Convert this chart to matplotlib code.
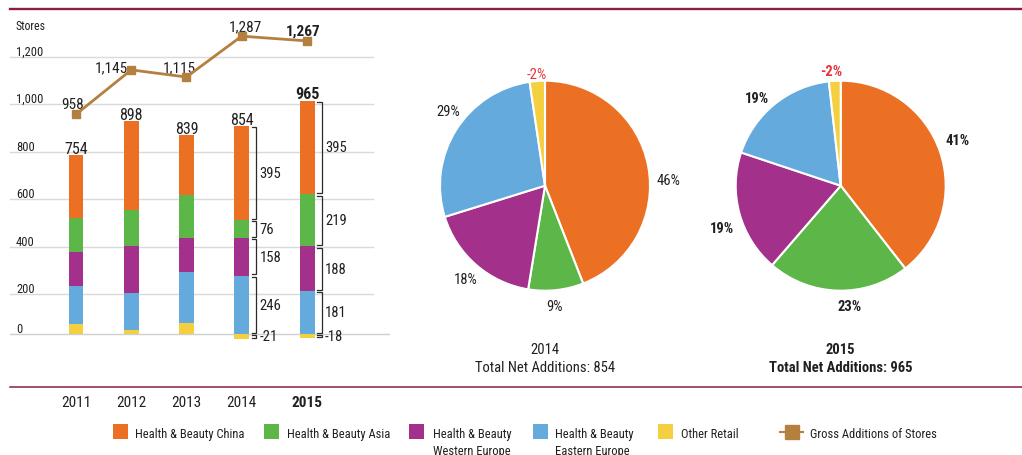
import matplotlib
matplotlib.use("Agg")
import numpy as np
import matplotlib.pyplot as plt
from matplotlib import font_manager
from matplotlib.lines import Line2D
from matplotlib.patches import Rectangle
from matplotlib.transforms import blended_transform_factory


def pick_font(candidates):
    for name in candidates:
        try:
            font_manager.findfont(font_manager.FontProperties(family=name),
                                  fallback_to_default=False)
            return name
        except ValueError:
            continue
    return "DejaVu Sans"


FONT = pick_font(["Liberation Sans Narrow", "DejaVu Sans Condensed", "Roboto Condensed",
                  "Liberation Sans"])
plt.rcParams["font.family"] = [FONT, "DejaVu Sans"]

# ---------------------------------------------------------------- data
years = ["2011", "2012", "2013", "2014", "2015"]
hb_china = [264, 374, 255, 395, 395]
hb_asia = [146, 152, 178, 76, 219]
hb_western_europe = [144, 199, 144, 158, 188]
hb_eastern_europe = [160, 156, 215, 246, 181]
other_retail = [40, 17, 47, -21, -18]
gross_additions = [958, 1145, 1115, 1287, 1267]

pie_labels_2014 = ["46%", "9%", "18%", "29%", "-2%"]
pie_labels_2015 = ["41%", "23%", "19%", "19%", "-2%"]

series_names = ["Health & Beauty China", "Health & Beauty Asia",
                "Health & Beauty\nWestern Europe", "Health & Beauty\nEastern Europe",
                "Other Retail"]
line_name = "Gross Additions of Stores"

# ---------------------------------------------------------------- style
C_CHINA = "#ec7023"
C_ASIA = "#5db748"
C_WEST = "#a3308b"
C_EAST = "#64aadd"
C_OTHER = "#f4cf40"
C_LINE = "#b4803f"
C_RULE = "#8b1c48"
C_TEXT = "#231f20"
C_NEG = "#e8333c"
C_GRID = "#d9d9d9"

W, H = 1022, 456
fig = plt.figure(figsize=(W / 100, H / 100), dpi=100)


def fx(px):
    return px / W


def fy(py):
    return 1 - py / H


# horizontal rules across the page
fig.add_artist(Line2D([fx(10), 1], [fy(9.5), fy(9.5)], color=C_RULE, lw=1.7))
fig.add_artist(Line2D([fx(10), 1], [fy(388.3), fy(388.3)], color=C_RULE, lw=1.1))

# ---------------------------------------------------------------- bar + line chart
XLIM = (-1.196, 5.688)
YLIM = (-223.2, 1360.0)
LINE_SHIFT = 33  # gross additions axis sits slightly above the bar axis

ax_line = fig.add_axes([fx(10), fy(388), 380 / W, 376 / H])
ax_line.set_xlim(XLIM)
ax_line.set_ylim(YLIM[0] + LINE_SHIFT, YLIM[1] + LINE_SHIFT)
for s in ax_line.spines.values():
    s.set_visible(False)
ax_line.set_yticks([])

x = np.arange(len(years), dtype=float)
x[-1] += 0.19
ax_line.set_xticks(x, years)
ax_line.tick_params(axis="x", length=0, pad=6, labelsize=11, labelcolor=C_TEXT)
ax_line.get_xticklabels()[-1].set_fontweight("bold")

ax_bar = ax_line.twinx()
ax_bar.set_ylim(YLIM)
ax_bar.patch.set_visible(False)
for s in ax_bar.spines.values():
    s.set_visible(False)
ax_bar.set_yticks([])

# gridlines and stores labels
lab_tr = blended_transform_factory(ax_line.transAxes, ax_line.transData)
for v in range(200, 1201, 200):
    ax_line.axhline(v, xmin=0, xmax=0.955, color=C_GRID, lw=1, zorder=0)
    ax_line.annotate(f"{v:,}", (0.016, v), xycoords=lab_tr, xytext=(0, 1.5),
                     textcoords="offset points", ha="left", va="baseline",
                     fontsize=9, color=C_TEXT)
ax_bar.axhline(0, color="#cfcfcf", lw=1, zorder=0)
ax_bar.annotate("0", (0.016, 0), xycoords=blended_transform_factory(ax_bar.transAxes, ax_bar.transData),
                xytext=(0, 1.5), textcoords="offset points", ha="left", va="baseline",
                fontsize=9, color=C_TEXT)
fig.text(fx(16), fy(30), "Stores", ha="left", va="baseline", fontsize=8.5, color=C_TEXT)

# stacked bars (bottom to top)
stack = [(other_retail, C_OTHER), (hb_eastern_europe, C_EAST), (hb_western_europe, C_WEST),
         (hb_asia, C_ASIA), (hb_china, C_CHINA)]
BAR_W = 0.27
pos_base = np.zeros(len(years))
neg_base = np.zeros(len(years))
segments = [[] for _ in years]
for vals, col in stack:
    vals = np.asarray(vals, dtype=float)
    bottoms = np.where(vals >= 0, pos_base, neg_base + vals)
    ax_bar.bar(x, np.abs(vals), bottom=bottoms, width=BAR_W, color=col, lw=0, zorder=2)
    for i, (b, v) in enumerate(zip(bottoms, vals)):
        segments[i].append((b, b + abs(v), int(v)))
    pos_base = pos_base + np.where(vals >= 0, vals, 0)
    neg_base = neg_base + np.where(vals < 0, vals, 0)

net_totals = [a + b + c + d + e for a, b, c, d, e in
              zip(hb_china, hb_asia, hb_western_europe, hb_eastern_europe, other_retail)]
for i, (xi, top, tot) in enumerate(zip(x, pos_base, net_totals)):
    ax_bar.annotate(f"{tot:,}", (xi, top), xytext=(0, 1.5), textcoords="offset points",
                    ha="center", va="baseline", fontsize=11.5, color=C_TEXT,
                    fontweight="bold" if i == len(years) - 1 else "normal")

# brackets with segment values for the last two years
px_unit_x = 380 / (XLIM[1] - XLIM[0])
px_unit_y = 376 / (YLIM[1] - YLIM[0])
for i in (3, 4):
    xb = x[i] + 14.3 / px_unit_x
    tick = 4.3 / px_unit_x
    inset = 1.2 / px_unit_y
    for y0, y1, v in segments[i]:
        ax_bar.plot([xb - tick, xb, xb, xb - tick],
                    [y1 - inset, y1 - inset, y0 + inset, y0 + inset],
                    color="#2a2a2a", lw=0.9, solid_joinstyle="miter", zorder=3)
        ax_bar.annotate(str(v), (xb, (y0 + y1) / 2), xytext=(2.5, 0),
                        textcoords="offset points", ha="left", va="center",
                        fontsize=10.5, color=C_TEXT)

# gross additions line
ax_line.plot(x, gross_additions, color=C_LINE, lw=2.0, marker="s", ms=5.5, zorder=4)
line_label_offsets = [(-3, 10), (-20, 3), (-7, 10), (4, 10), (-4, 10)]  # px, up positive
for i, (xi, v, (dx, dy)) in enumerate(zip(x, gross_additions, line_label_offsets)):
    ax_line.annotate(f"{v:,}", (xi, v), xytext=(dx * 0.72, dy * 0.72),
                     textcoords="offset points", ha="center", va="center",
                     fontsize=11, color=C_TEXT,
                     fontweight="bold" if i == len(years) - 1 else "normal")

# ---------------------------------------------------------------- pies
PIE_COLORS = [C_CHINA, C_ASIA, C_WEST, C_EAST, C_OTHER]


def draw_pie(cx, cy, idx, labels, nudges, bold):
    vals = [hb_china[idx], hb_asia[idx], hb_western_europe[idx],
            hb_eastern_europe[idx], other_retail[idx]]
    r = 105
    ax = fig.add_axes([fx(cx - r), fy(cy + r), 2 * r / W, 2 * r / H])
    wedges, _ = ax.pie(np.abs(vals), colors=PIE_COLORS, startangle=90, counterclock=False,
                       wedgeprops=dict(edgecolor="white", linewidth=1.5))
    ax.set_xlim(-1, 1)
    ax.set_ylim(-1, 1)
    ax.set_aspect("equal")
    weight = "bold" if bold else "normal"
    for w, lab, v, (dx, dy) in zip(wedges, labels, vals, nudges):
        mid = np.deg2rad((w.theta1 + w.theta2) / 2)
        d = 1.07 if v < 0 else 1.15
        ax.annotate(lab, (d * np.cos(mid), d * np.sin(mid)),
                    xytext=(dx * 0.72, -dy * 0.72), textcoords="offset points",
                    ha="center", va="center", fontsize=10.5, fontweight=weight,
                    color=C_NEG if v < 0 else C_TEXT, annotation_clip=False)
    total = sum(vals)
    fig.text(fx(cx), fy(354), years[idx], ha="center", va="baseline",
             fontsize=10.5, fontweight=weight, color=C_TEXT)
    fig.text(fx(cx), fy(371.7), f"Total Net Additions: {total:,}", ha="center",
             va="baseline", fontsize=10.5, fontweight=weight, color=C_TEXT)


draw_pie(545, 186.7, 3, pie_labels_2014,
         [(5, 17), (-3, 0), (0, 2), (5, -10), (0, 0)], bold=False)
draw_pie(840.7, 186.7, 4, pie_labels_2015,
         [(3, -6), (12, 0), (-2, 10), (-8, 6), (-3, -3)], bold=True)

# ---------------------------------------------------------------- legend
sq_x = [113, 264, 409, 533, 658]
txt_x = [135, 287, 433, 555, 681]
for sx, tx, col, name in zip(sq_x, txt_x, PIE_COLORS, series_names):
    fig.add_artist(Rectangle((fx(sx), fy(440)), 15 / W, 15 / H, color=col, lw=0))
    fig.text(fx(tx), fy(428.5), name, ha="left", va="top", fontsize=9,
             color=C_TEXT, linespacing=1.35)
fig.add_artist(Line2D([fx(780), fx(803)], [fy(432.5), fy(432.5)], color=C_LINE, lw=1.5))
fig.add_artist(Line2D([fx(791.5)], [fy(432.5)], color=C_LINE, marker="s", ms=10, lw=0))
fig.text(fx(810), fy(428.5), line_name, ha="left", va="top", fontsize=9, color=C_TEXT)

fig.savefig("out.png", dpi=100)
